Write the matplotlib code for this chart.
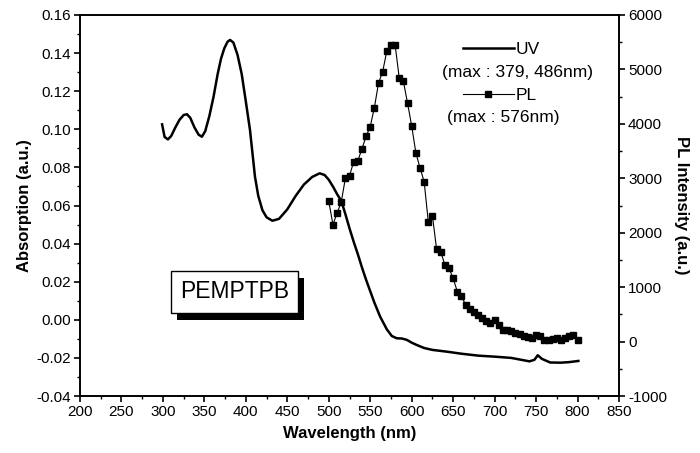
import numpy as np
import matplotlib
matplotlib.use('Agg')
import matplotlib.pyplot as plt
import matplotlib.patheffects as pe
from matplotlib.ticker import MultipleLocator, FormatStrFormatter

plt.rcParams['font.family'] = ['Liberation Sans', 'DejaVu Sans']
plt.rcParams['font.size'] = 11
plt.rcParams['axes.unicode_minus'] = False

# UV absorption spectrum
uv_wl = [299, 302, 306, 310, 315, 320, 325, 329, 333, 338, 343, 347, 351, 356,
         361, 366, 370, 374, 378, 381, 385, 390, 395, 400, 405, 411, 415, 420,
         425, 432, 440, 450, 460, 470, 480, 489, 495, 500, 505, 510, 515, 520,
         525, 530, 535, 540, 545, 550, 555, 562, 570, 576, 582, 588, 594, 600,
         606, 615, 625, 642, 660, 680, 702, 720, 742, 748, 752, 757, 767, 780,
         790, 801]
uv_abs = [0.1026, 0.0960, 0.0947, 0.0965, 0.1010, 0.1050, 0.1075, 0.1079,
          0.1060, 0.1010, 0.0972, 0.0961, 0.0990, 0.1070, 0.1170, 0.1290,
          0.1370, 0.1425, 0.1460, 0.1469, 0.1455, 0.1390, 0.1290, 0.1145,
          0.0996, 0.0751, 0.0650, 0.0575, 0.0538, 0.0520, 0.0530, 0.0580,
          0.0650, 0.0710, 0.0750, 0.0769, 0.0760, 0.0735, 0.0700, 0.0660,
          0.0625, 0.0555, 0.0480, 0.0410, 0.0345, 0.0275, 0.0210, 0.0150,
          0.0090, 0.0016, -0.0050, -0.0085, -0.0097, -0.0098, -0.0105,
          -0.0120, -0.0132, -0.0148, -0.0158, -0.0167, -0.0178, -0.0188,
          -0.0194, -0.0200, -0.0218, -0.0210, -0.0186, -0.0205, -0.0224,
          -0.0225, -0.0222, -0.0216]

# PL emission spectrum
pl_wl = [500, 505, 510, 515, 520, 525, 530, 535, 540, 545, 550, 555, 560, 565,
         570, 575, 580, 585, 590, 595, 600, 605, 610, 615, 620, 625, 630, 635,
         640, 645, 650, 655, 660, 665, 670, 675, 680, 685, 690, 695, 700, 705,
         710, 715, 720, 725, 730, 735, 740, 745, 750, 755, 760, 765, 770, 775,
         780, 785, 790, 795, 800]
pl_int = [2580, 2150, 2360, 2560, 3000, 3050, 3300, 3320, 3540, 3770, 3950,
          4300, 4750, 4960, 5340, 5450, 5450, 4840, 4780, 4380, 3960, 3470,
          3190, 2940, 2200, 2310, 1700, 1650, 1410, 1350, 1160, 920, 830, 680,
          600, 550, 490, 430, 370, 340, 400, 300, 210, 210, 190, 165, 140, 110,
          90, 60, 120, 100, 30, 20, 40, 60, 30, 70, 110, 120, 30]

fig = plt.figure(figsize=(7, 4.53), dpi=100)
ax = fig.add_axes([0.1143, 0.1258, 0.77, 0.8411])
ax2 = ax.twinx()

l1, = ax.plot(uv_wl, uv_abs, color='black', lw=1.8, label='UV')
l2, = ax2.plot(pl_wl, pl_int, color='black', lw=0.8, marker='s',
               markersize=5, label='PL')

ax.set_xlim(200, 850)
ax.set_ylim(-0.04, 0.16)
ax2.set_ylim(-1000, 6000)

ax.xaxis.set_major_locator(MultipleLocator(50))
ax.xaxis.set_minor_locator(MultipleLocator(25))
ax.yaxis.set_major_locator(MultipleLocator(0.02))
ax.yaxis.set_minor_locator(MultipleLocator(0.01))
ax2.yaxis.set_major_locator(MultipleLocator(1000))
ax2.yaxis.set_minor_locator(MultipleLocator(500))
ax.yaxis.set_major_formatter(FormatStrFormatter('%.2f'))

for a in (ax, ax2):
    a.tick_params(which='major', direction='out', length=4, width=1.2,
                  labelsize=11, pad=2.5)
    a.tick_params(which='minor', direction='out', length=2.5, width=1)
    for s in a.spines.values():
        s.set_linewidth(1.2)

ax.set_xlabel('Wavelength (nm)', fontsize=12, fontweight='bold', labelpad=5)
ax.set_ylabel('Absorption (a.u.)', fontsize=12, fontweight='bold', labelpad=3)
ax2.set_ylabel('PL Intensity (a.u.)', fontsize=12, fontweight='bold',
               rotation=270, labelpad=16)

leg = ax.legend(handles=[l1, l2], loc='upper left', bbox_to_anchor=(0.711, 0.93),
                frameon=False, fontsize=12.5, handlelength=2.9, handletextpad=0.1,
                labelspacing=1.78, borderpad=0, borderaxespad=0)
ax.text(0.812, 0.850, '(max : 379, 486nm)', transform=ax.transAxes,
        ha='center', va='center', fontsize=12.5)
ax.text(0.785, 0.732, '(max : 576nm)', transform=ax.transAxes,
        ha='center', va='center', fontsize=12.5)

t = ax.text(0.287, 0.273, 'PEMPTPB', transform=ax.transAxes, ha='center',
            va='center', fontsize=16.5,
            bbox=dict(boxstyle='square,pad=0.4', fc='white', ec='black', lw=1))
t.get_bbox_patch().set_path_effects([
    pe.SimplePatchShadow(offset=(4, -5), shadow_rgbFace='black', alpha=1),
    pe.Normal()])

fig.savefig('out.png', dpi=100)
